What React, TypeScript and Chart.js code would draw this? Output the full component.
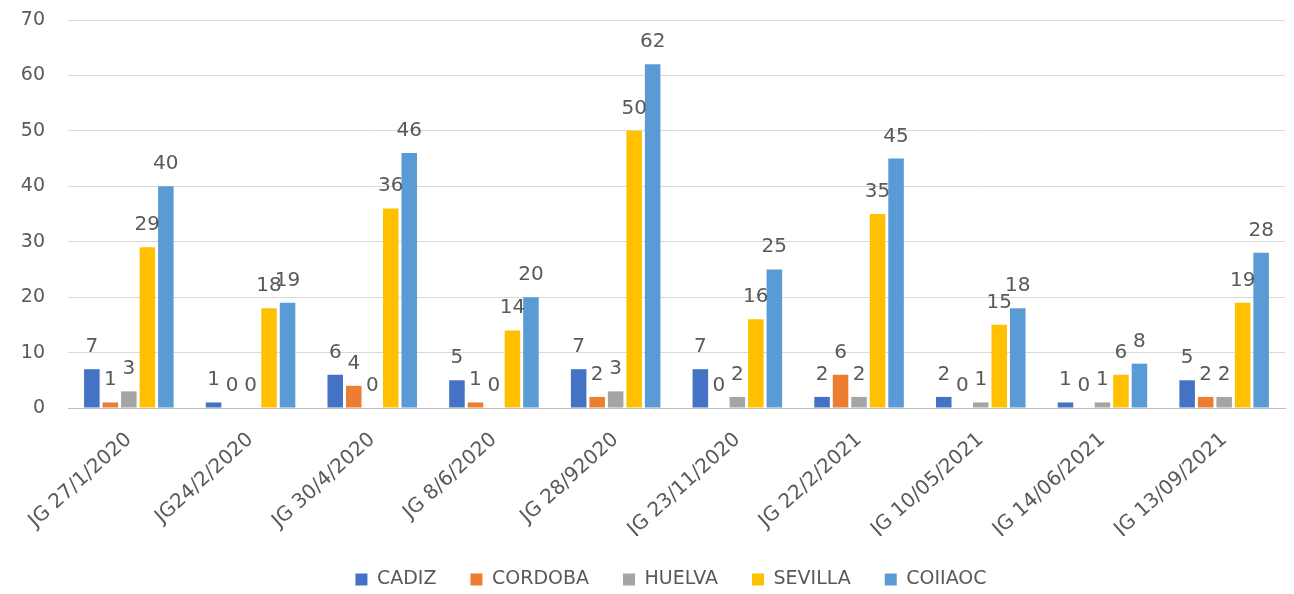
import React, { useEffect, useRef } from "react";
import { Chart, registerables } from "chart.js";

Chart.register(...registerables);

const categories = [
  "JG 27/1/2020",
  "JG24/2/2020",
  "JG 30/4/2020",
  "JG 8/6/2020",
  "JG 28/92020",
  "JG 23/11/2020",
  "JG 22/2/2021",
  "JG 10/05/2021",
  "JG 14/06/2021",
  "JG 13/09/2021",
];

const cadiz = [7, 1, 6, 5, 7, 7, 2, 2, 1, 5];
const cordoba = [1, 0, 4, 1, 2, 0, 6, 0, 0, 2];
const huelva = [3, 0, 0, 0, 3, 2, 2, 1, 1, 2];
const sevilla = [29, 18, 36, 14, 50, 16, 35, 15, 6, 19];
const coiiaoc = [40, 19, 46, 20, 62, 25, 45, 18, 8, 28];

const seriesNames = ["CADIZ", "CORDOBA", "HUELVA", "SEVILLA", "COIIAOC"];
const seriesColors = ["#4472C4", "#ED7D31", "#A5A5A5", "#FFC000", "#5B9BD5"];

const FONT = "'DejaVu Sans', 'Open Sans', sans-serif";
const TEXT = "#595959";

const dataLabelPlugin = {
  id: "dataLabels",
  afterDatasetsDraw(chart: any) {
    const ctx = chart.ctx;
    ctx.save();
    ctx.font = `20px ${FONT}`;
    ctx.fillStyle = TEXT;
    ctx.textAlign = "center";
    ctx.textBaseline = "alphabetic";
    chart.data.datasets.forEach((ds: any, i: number) => {
      const meta = chart.getDatasetMeta(i);
      meta.data.forEach((bar: any, j: number) => {
        const v = ds.data[j];
        ctx.fillText(String(v), bar.x, bar.y - 17);
      });
    });
    ctx.restore();
  },
};

const legendCenterPlugin = {
  id: "legendCenter",
  afterLayout(chart: any) {
    const lg = chart.legend;
    const area = chart.chartArea;
    if (lg && area) {
      lg.left = area.left;
      lg.right = area.right - 11;
      lg.width = lg.right - lg.left;
    }
  },
};

export default function App() {
  const ref = useRef<HTMLCanvasElement | null>(null);

  useEffect(() => {
    if (!ref.current) return;
    const data = [cadiz, cordoba, huelva, sevilla, coiiaoc];
    const chart = new Chart(ref.current, {
      type: "bar",
      data: {
        labels: categories,
        datasets: seriesNames.map((name, i) => ({
          label: name,
          data: data[i],
          backgroundColor: seriesColors[i],
          borderWidth: 0,
          categoryPercentage: 0.76,
          barPercentage: 0.84,
        })),
      },
      options: {
        animation: false,
        responsive: false,
        maintainAspectRatio: false,
        layout: { padding: { top: 0, right: 9, left: 0, bottom: 0 } },
        plugins: {
          legend: {
            position: "bottom",
            maxHeight: 58,
            labels: {
              boxWidth: 12,
              boxHeight: 12,
              padding: 34,
              color: TEXT,
              font: { family: FONT, size: 19 },
            },
          },
          tooltip: { enabled: false },
        },
        scales: {
          x: {
            grid: { display: false },
            border: { display: true, color: "#BFBFBF" },
            ticks: {
              color: TEXT,
              font: { family: FONT, size: 20 },
              minRotation: 42,
              maxRotation: 42,
              padding: 12,
              labelOffset: 0,
            },
            afterFit: (scale: any) => {
              scale.height = 128;
            },
          },
          y: {
            min: 0,
            max: 70,
            border: { display: false },
            grid: { color: "#D9D9D9", drawTicks: false },
            ticks: {
              stepSize: 10,
              color: TEXT,
              font: { family: FONT, size: 19 },
              padding: 23,
            },
            afterFit: (scale: any) => {
              scale.width = 68;
              scale.paddingTop = 20;
              scale.paddingBottom = 12;
            },
          },
        },
      },
      plugins: [dataLabelPlugin, legendCenterPlugin],
    });
    return () => chart.destroy();
  }, []);

  return (
    <div style={{ position: "fixed", left: 0, top: 0, width: 1294, height: 594, background: "#fff" }}>
      <canvas ref={ref} width={1294} height={594} />
    </div>
  );
}
